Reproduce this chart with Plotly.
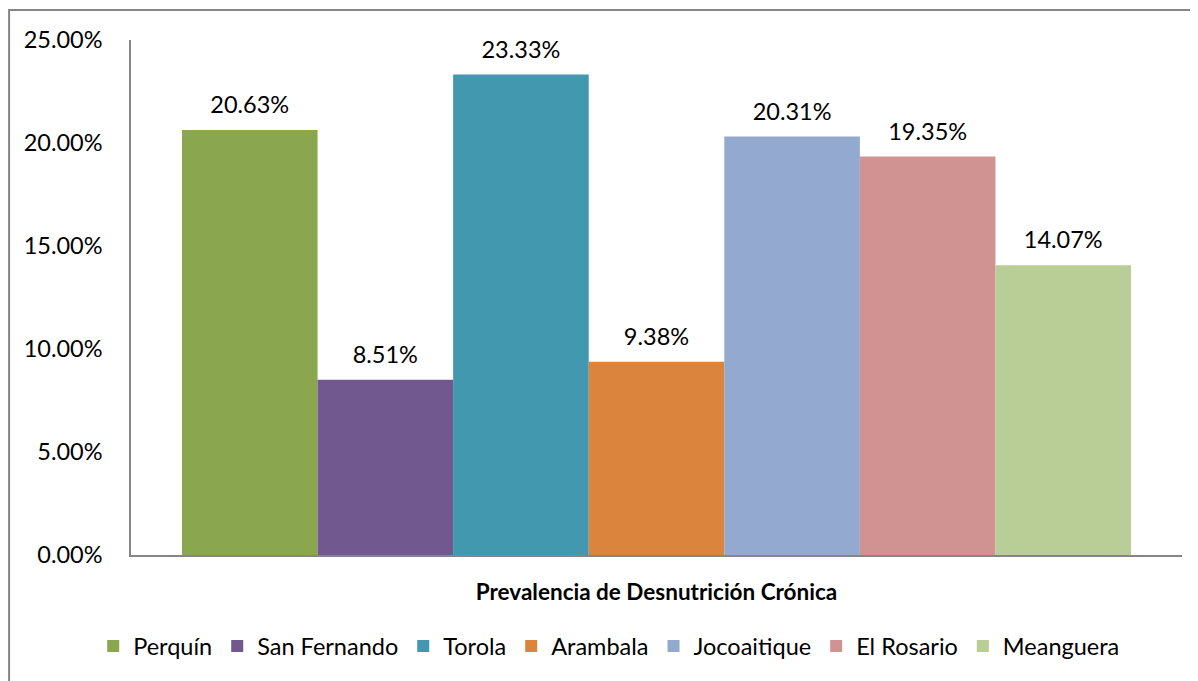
import plotly.graph_objects as go

# Prevalence of chronic malnutrition by municipality
category = "Prevalencia de Desnutrición Crónica"
municipios = ["Perquín", "San Fernando", "Torola", "Arambala", "Jocoaitique", "El Rosario", "Meanguera"]
prevalencia = [0.2063, 0.0851, 0.2333, 0.0938, 0.2031, 0.1935, 0.1407]
colores = ["#8AA64E", "#71588F", "#4198AF", "#DB843D", "#93A9CF", "#D19392", "#B9CD96"]
etiquetas = [f"{v*100:.2f}%" for v in prevalencia]

font_name = "Lato, Open Sans, sans-serif"
fsize = 23.5
bargap = 0.097

fig = go.Figure()

for name, val, col in zip(municipios, prevalencia, colores):
    fig.add_trace(go.Bar(
        name=name,
        x=[category],
        y=[val],
        marker_color=col,
        marker_line_width=0,
    ))

# data labels on an overlaid categorical axis so they sit above each bar
pad = 3.5 * bargap / (1 - bargap) * 2
fig.add_trace(go.Scatter(
    x=municipios,
    y=prevalencia,
    xaxis="x2",
    mode="markers+text",
    text=etiquetas,
    textposition="top center",
    textfont=dict(size=fsize, color="black", family=font_name),
    marker=dict(size=16, opacity=0),
    showlegend=False,
    hoverinfo="skip",
    cliponaxis=False,
))

fig.update_layout(
    barmode="group",
    bargap=bargap,
    bargroupgap=0,
    width=1198,
    height=681,
    margin=dict(l=123, r=24, t=32, b=134),
    plot_bgcolor="white",
    paper_bgcolor="white",
    font=dict(family=font_name, size=fsize, color="black"),
    showlegend=True,
    legend=dict(
        orientation="h",
        x=0.455,
        xanchor="center",
        y=-0.177,
        yanchor="middle",
        font=dict(size=fsize),
        itemwidth=30,
    ),
    xaxis=dict(
        showticklabels=False,
        showline=True,
        linecolor="#868686",
        linewidth=1.5,
        ticks="",
        title=dict(text="<b>" + category + "</b>", font=dict(size=22.5), standoff=28),
    ),
    xaxis2=dict(
        overlaying="x",
        type="category",
        range=[-0.5 - pad / 2, 6.5 + pad / 2],
        visible=False,
    ),
    yaxis=dict(
        range=[0, 0.25],
        tickvals=[0, 0.05, 0.10, 0.15, 0.20, 0.25],
        tickformat=".2%",
        showgrid=False,
        zeroline=False,
        showline=True,
        linecolor="#868686",
        linewidth=1.5,
        ticks="",
        ticklabelstandoff=22,
        tickfont=dict(size=fsize),
    ),
)

# chart border
fig.add_shape(
    type="rect", xref="paper", yref="paper",
    x0=-0.116, x1=1.0143, y0=-0.27, y1=1.0583,
    line=dict(color="#868686", width=2),
    fillcolor="rgba(0,0,0,0)",
    layer="below",
)

fig.write_html("out.html")
